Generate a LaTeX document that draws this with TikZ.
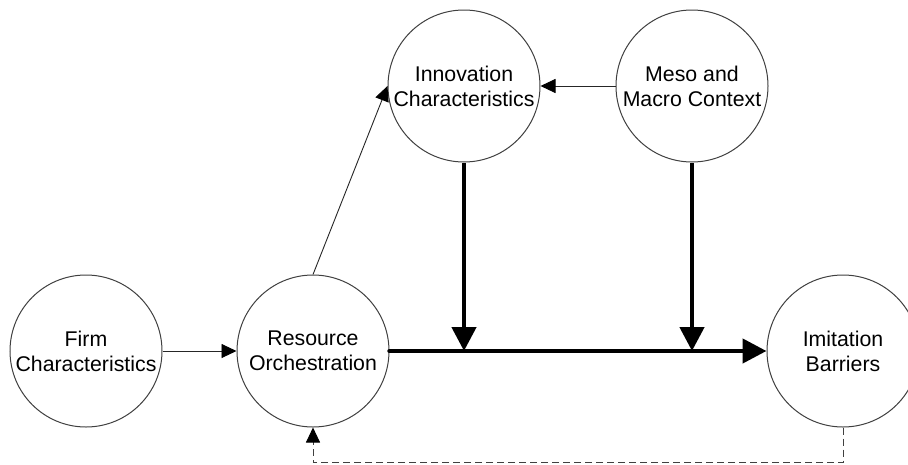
\documentclass[tikz,border=0pt]{standalone}
\usepackage{fontspec}
\setmainfont{Liberation Sans}
\usetikzlibrary{arrows.meta}
\begin{document}
\begin{tikzpicture}[x=1pt,y=-1pt,
  concept/.style={circle,draw=black!75,line width=1pt,minimum size=152pt,inner sep=0pt,
    align=center,font=\fontsize{21.3}{25}\selectfont},
  thinarrow/.style={draw=black!85,line width=0.9pt,-{Triangle[length=15pt,width=14pt,color=black]}},
  thickarrow/.style={line width=4.5pt,-{Triangle[length=24pt,width=24pt]}},
  feedback/.style={draw=black!75,line width=0.9pt,dash pattern=on 7pt off 4pt,
    -{Triangle[length=15pt,width=14pt,color=black]}}]
\clip (0,0) rectangle (908,464);
\fill[white] (0,0) rectangle (908,464);

\node[concept] (firm) at (86,351) {Firm\\Characteristics};
\node[concept] (res) at (313,351) {Resource\\Orchestration};
\node[concept] (inn) at (464,86) {Innovation\\Characteristics};
\node[concept] (meso) at (692,86) {Meso and\\Macro Context};
\node[concept] (imi) at (843,351) {Imitation\\Barriers};

\coordinate (j1) at (inn.south |- res.east);
\coordinate (j2) at (meso.south |- res.east);
\coordinate (fb1) at (imi.south |- 0,462.5);
\coordinate (fb2) at (res.south |- 0,462.5);

\draw[thinarrow] (firm.east) -- (res.west);
\draw[thinarrow] (res.north) -- (inn.west);
\draw[thinarrow] (meso.west) -- (inn.east);
\draw[thickarrow,line cap=round] (res.east) -- (imi.west);
\draw[thickarrow] (inn.south) -- (j1);
\draw[thickarrow] (meso.south) -- (j2);
\draw[feedback] (imi.south) -- (fb1) -- (fb2) -- (res.south);
\end{tikzpicture}
\end{document}
